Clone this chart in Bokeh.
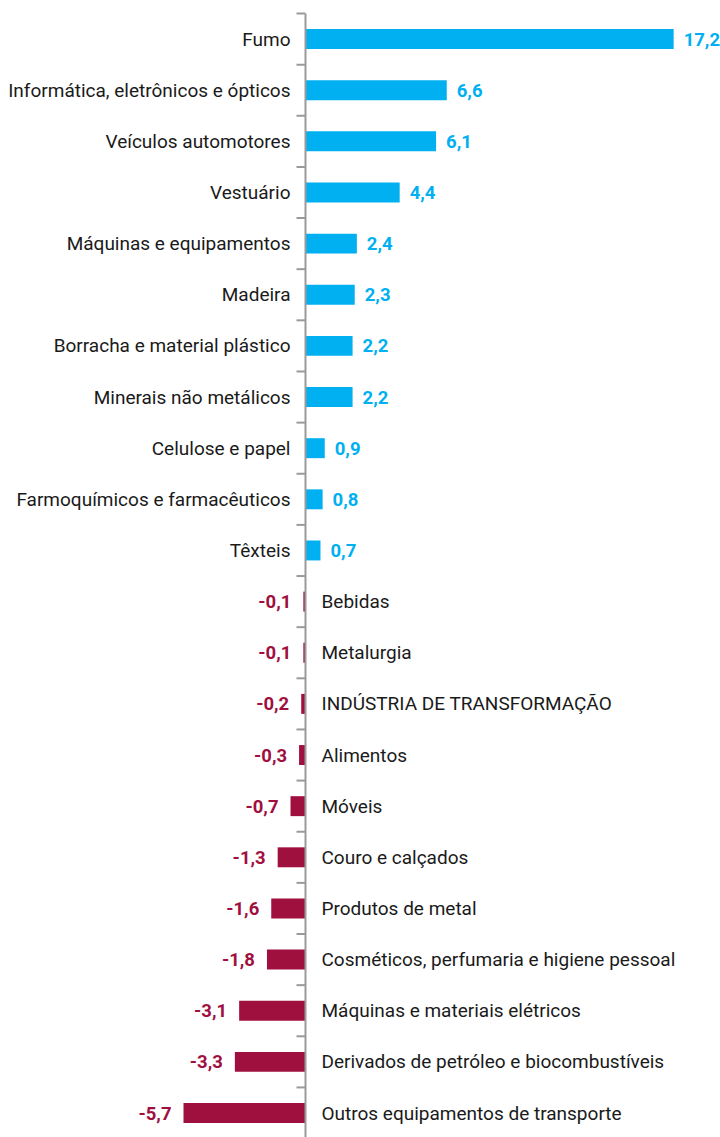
from bokeh.plotting import figure
from bokeh.models import ColumnDataSource, Range1d
from bokeh.core.properties import value
from bokeh.embed import file_html
from bokeh.resources import INLINE

categories = [
    "Fumo", "Informática, eletrônicos e ópticos", "Veículos automotores", "Vestuário",
    "Máquinas e equipamentos", "Madeira", "Borracha e material plástico",
    "Minerais não metálicos", "Celulose e papel", "Farmoquímicos e farmacêuticos",
    "Têxteis", "Bebidas", "Metalurgia", "INDÚSTRIA DE TRANSFORMAÇÃO", "Alimentos",
    "Móveis", "Couro e calçados", "Produtos de metal",
    "Cosméticos, perfumaria e higiene pessoal", "Máquinas e materiais elétricos",
    "Derivados de petróleo e biocombustíveis", "Outros equipamentos de transporte",
]
values = [17.2, 6.6, 6.1, 4.4, 2.4, 2.3, 2.2, 2.2, 0.9, 0.8, 0.7,
          -0.1, -0.1, -0.2, -0.3, -0.7, -1.3, -1.6, -1.8, -3.1, -3.3, -5.7]

BLUE = "#00B0F0"
RED = "#A0103F"
FONT = "Roboto"

n = len(categories)
idx = list(range(n))
pos = [v >= 0 for v in values]
colors = [BLUE if p else RED for p in pos]
vlabels = [("%.1f" % v).replace(".", ",") for v in values]

W, H = 720, 1137
p = figure(width=W, height=H, output_backend="svg", toolbar_location=None,
           x_range=Range1d(-14.25, 19.39), y_range=Range1d(21.479, -0.754),
           min_border=0, outline_line_color=None)
p.axis.visible = False
p.grid.visible = False
p.background_fill_color = "white"
p.border_fill_color = "white"

src = ColumnDataSource(dict(y=idx, v=values, c=colors, lab=vlabels))
p.hbar(y="y", left=0, right="v", height=0.39, fill_color="c", line_color=None, source=src)

# axis line and ticks at category boundaries
bounds = [i - 0.5 for i in range(n + 1)]
p.segment(x0=[0], y0=[-0.5], x1=[0], y1=[n - 0.5], line_color="#9a9a9a", line_width=2)
p.segment(x0=[-0.42] * len(bounds), y0=bounds, x1=[0] * len(bounds), y1=bounds,
          line_color="#9a9a9a", line_width=2)

pos_src = ColumnDataSource(dict(
    y=[i for i in idx if pos[i]], v=[values[i] for i in idx if pos[i]],
    cat=[categories[i] for i in idx if pos[i]], lab=[vlabels[i] for i in idx if pos[i]]))
neg_src = ColumnDataSource(dict(
    y=[i for i in idx if not pos[i]], v=[values[i] for i in idx if not pos[i]],
    cat=[categories[i] for i in idx if not pos[i]], lab=[vlabels[i] for i in idx if not pos[i]]))

FS = "19px"
VFS = "18.5px"
# category labels
p.text(x=0, y="y", text="cat", source=pos_src, x_offset=-15, text_align="right",
       text_baseline="middle", text_font=value(FONT), text_font_size=FS, text_color="#1a1a1a")
p.text(x=0, y="y", text="cat", source=neg_src, x_offset=16, text_align="left",
       text_baseline="middle", text_font=value(FONT), text_font_size=FS, text_color="#1a1a1a")

# value labels
p.text(x="v", y="y", text="lab", source=pos_src, x_offset=10, text_align="left",
       text_baseline="middle", text_font=value(FONT), text_font_size=VFS,
       text_font_style="bold", text_color=BLUE)
p.text(x="v", y="y", text="lab", source=neg_src, x_offset=-12, text_align="right",
       text_baseline="middle", text_font=value(FONT), text_font_size=VFS,
       text_font_style="bold", text_color=RED)

open("out.html", "w").write(file_html(p, INLINE))
